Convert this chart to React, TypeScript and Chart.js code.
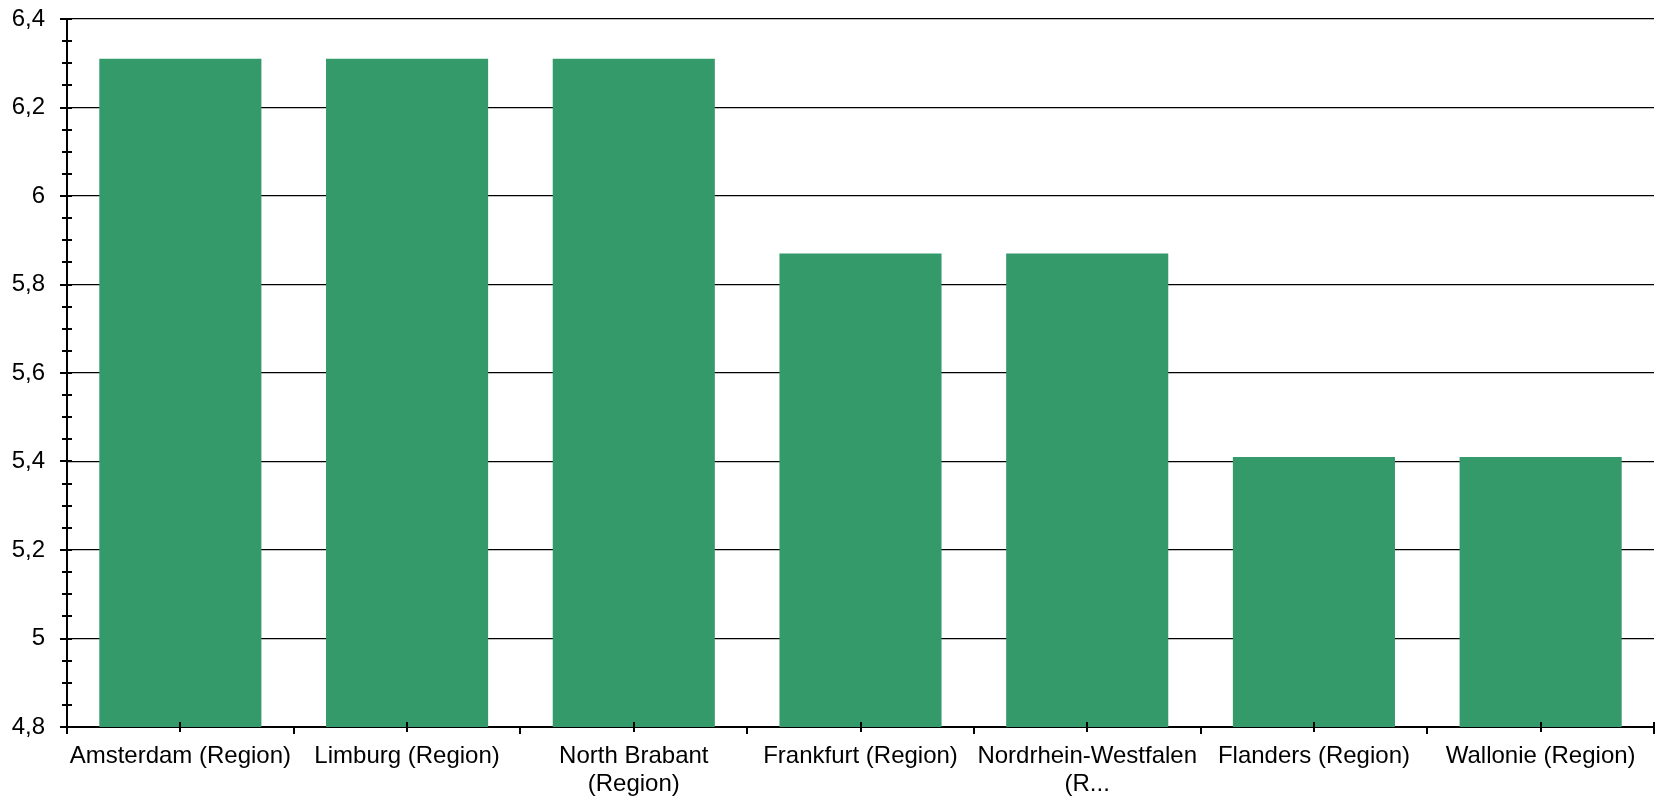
import React, { useEffect, useRef } from "react";
import { Chart, registerables } from "chart.js";

Chart.register(...registerables);

const CATEGORIES: (string | string[])[] = [
  "Amsterdam (Region)",
  "Limburg (Region)",
  ["North Brabant", "(Region)"],
  "Frankfurt (Region)",
  ["Nordrhein-Westfalen", "(R..."],
  "Flanders (Region)",
  "Wallonie (Region)",
];
const VALUES: number[] = [6.31, 6.31, 6.31, 5.87, 5.87, 5.41, 5.41];
const Y_TICKS: number[] = [4.8, 5.0, 5.2, 5.4, 5.6, 5.8, 6.0, 6.2, 6.4];
const Y_TICK_LABELS: string[] = ["4,8", "5", "5,2", "5,4", "5,6", "5,8", "6", "6,2", "6,4"];
const Y_MINOR_STEP = 0.05;

const FONT = { family: "'Liberation Sans', Arial, sans-serif", size: 24, lineHeight: 1.15 };

const axisDecor = {
  id: "axisDecor",
  afterDatasetsDraw(chart: any) {
    const ctx = chart.ctx;
    const x = chart.scales.x;
    const y = chart.scales.y;
    const area = chart.chartArea;
    ctx.save();
    ctx.strokeStyle = "#000";
    ctx.lineWidth = 2;
    ctx.beginPath();
    const nMinor = Math.round((Y_TICKS[Y_TICKS.length - 1] - Y_TICKS[0]) / Y_MINOR_STEP);
    for (let i = 0; i <= nMinor; i++) {
      const py = Math.round(y.getPixelForValue(Y_TICKS[0] + i * Y_MINOR_STEP));
      ctx.moveTo(area.left - 5, py);
      ctx.lineTo(area.left + 5, py);
    }
    for (const v of Y_TICKS) {
      const py = Math.round(y.getPixelForValue(v));
      ctx.moveTo(area.left - 7, py);
      ctx.lineTo(area.left, py);
    }
    for (let i = 0; i < CATEGORIES.length; i++) {
      const px = Math.round(x.getPixelForValue(i));
      ctx.moveTo(px, area.bottom - 5);
      ctx.lineTo(px, area.bottom + 5);
    }
    for (let i = 0; i <= CATEGORIES.length; i++) {
      const px = Math.round(x.getPixelForValue(i - 0.5));
      const last = i === CATEGORIES.length;
      ctx.moveTo(px, last ? area.bottom - 5 : area.bottom);
      ctx.lineTo(px, area.bottom + 7);
    }
    ctx.stroke();
    ctx.restore();
  },
};

export default function App() {
  const ref = useRef<HTMLCanvasElement | null>(null);
  useEffect(() => {
    if (!ref.current) return;
    const chart = new Chart(ref.current, {
      type: "bar",
      data: {
        labels: CATEGORIES,
        datasets: [
          {
            data: VALUES,
            backgroundColor: "#359A6A",
            borderWidth: 0,
            categoryPercentage: 1,
            barPercentage: 0.715,
          },
        ],
      },
      options: {
        animation: false,
        responsive: true,
        maintainAspectRatio: false,
        layout: { padding: { left: 0, top: 19, right: 8, bottom: 0 } },
        plugins: { legend: { display: false }, tooltip: { enabled: false } },
        scales: {
          x: {
            grid: { display: false, drawTicks: false },
            border: { display: true, color: "#000", width: 2 },
            ticks: {
              font: FONT,
              color: "#000",
              padding: 16,
              maxRotation: 0,
              autoSkip: false,
            },
            afterFit: (s: any) => {
              s.height = 71;
              s.paddingLeft = 0;
              s.paddingRight = 0;
              s.paddingTop = 0;
              s.paddingBottom = 0;
            },
          },
          y: {
            min: Y_TICKS[0],
            max: Y_TICKS[Y_TICKS.length - 1],
            afterBuildTicks: (s: any) => {
              s.ticks = Y_TICKS.map((v) => ({ value: v }));
            },
            grid: { color: "#000", lineWidth: 1.3, drawTicks: false },
            border: { display: true, color: "#000", width: 2 },
            ticks: {
              font: FONT,
              color: "#000",
              padding: 22,
              callback: (v: any) => {
                const idx = Y_TICKS.findIndex((t) => Math.abs(t - Number(v)) < 1e-6);
                return idx >= 0 ? Y_TICK_LABELS[idx] : "";
              },
            },
            afterFit: (s: any) => {
              s.width = 67;
              s.paddingTop = 0;
              s.paddingBottom = 0;
              s.paddingLeft = 0;
              s.paddingRight = 0;
            },
          },
        },
      },
      plugins: [axisDecor],
    });
    return () => chart.destroy();
  }, []);
  return (
    <div style={{ position: "fixed", left: 0, top: 0, width: 1662, height: 798, background: "#fff" }}>
      <canvas ref={ref} />
    </div>
  );
}
